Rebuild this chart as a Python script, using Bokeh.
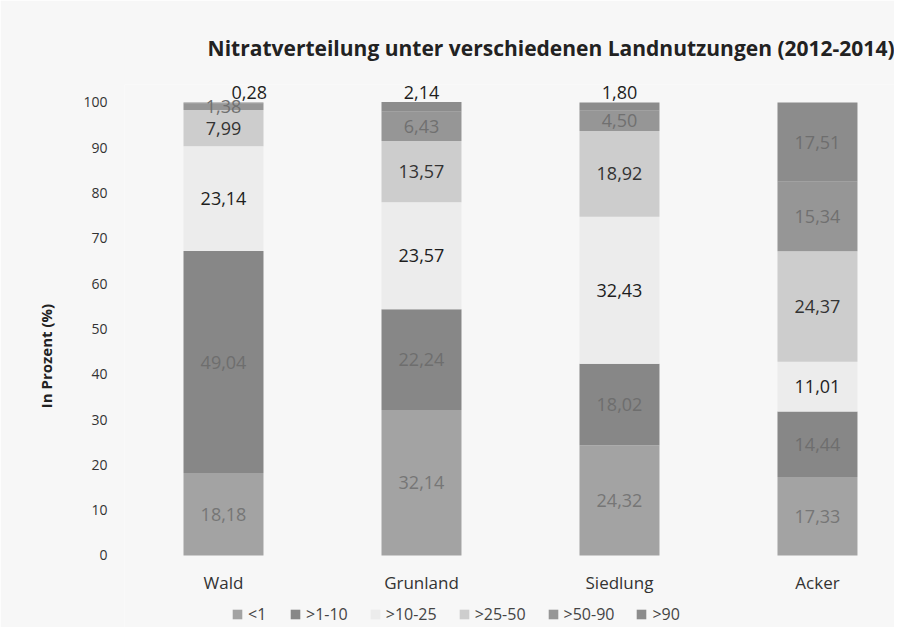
from bokeh.plotting import figure
from bokeh.models import Range1d, FixedTicker, ColumnDataSource, Legend, LegendItem
from bokeh.core.properties import value
from bokeh.embed import file_html
from bokeh.resources import INLINE

# ---- data ----
categories = ["Wald", "Grunland", "Siedlung", "Acker"]
series = ["<1", ">1-10", ">10-25", ">25-50", ">50-90", ">90"]
s_lt1 = [18.18, 32.14, 24.32, 17.33]
s_1_10 = [49.04, 22.24, 18.02, 14.44]
s_10_25 = [23.14, 23.57, 32.43, 11.01]
s_25_50 = [7.99, 13.57, 18.92, 24.37]
s_50_90 = [1.38, 6.43, 4.50, 15.34]
s_gt90 = [0.28, 2.14, 1.80, 17.51]
title_text = "Nitratverteilung unter verschiedenen Landnutzungen (2012-2014)"

# ---- styles ----
FONT = "Open Sans"
colors = ["#a3a3a3", "#878787", "#ececec", "#cdcdcd", "#969696", "#8c8c8c"]
label_colors = ["#767676", "#6e6e6e", "#1e1e1e", "#333333", "#707070", "#6e6e6e"]
BG = "#f7f7f7"

all_series = [s_lt1, s_1_10, s_10_25, s_25_50, s_50_90, s_gt90]
keys = ["s%d" % i for i in range(len(series))]
xs = list(range(len(categories)))
data = {"x": xs}
for k, s in zip(keys, all_series):
    data[k] = s
src = ColumnDataSource(data)

p = figure(frame_width=770, frame_height=543,
           x_range=Range1d(-0.5, 3.389), y_range=Range1d(-15.9, 103.97),
           output_backend="svg", toolbar_location=None,
           min_border_left=124, min_border_top=84, min_border_right=0,
           min_border_bottom=0,
           background_fill_color=BG, border_fill_color=BG, outline_line_color=None)

rs = p.vbar_stack(keys, x="x", width=0.404, color=colors, line_color=None, source=src)

# value labels
lx, ly, lt, lc = [], [], [], []
for i, cat in enumerate(categories):
    cum = 0.0
    for j, s in enumerate(all_series):
        v = s[i]
        txt = ("%.2f" % v).replace(".", ",")
        if j == len(all_series) - 1 and v < 3:
            y = cum + v + 2.2
            x = i + (0.13 if v < 1 else 0.0)
            col = "#1e1e1e"
        else:
            y = cum + v / 2.0
            x = i
            col = label_colors[j]
        lx.append(x); ly.append(y); lt.append(txt); lc.append(col)
        cum += v
lab_src = ColumnDataSource(dict(x=lx, y=ly, text=lt, color=lc))
p.text(x="x", y="y", text="text", source=lab_src, text_align="center",
       text_baseline="middle", text_font=value(FONT), text_font_size="18px",
       text_color="color")

# axes
p.xgrid.visible = False
p.ygrid.visible = False
p.xaxis.ticker = FixedTicker(ticks=xs)
p.xaxis.major_label_overrides = {i: c for i, c in enumerate(categories)}
p.xaxis.fixed_location = 0
p.yaxis.ticker = FixedTicker(ticks=list(range(0, 101, 10)))
for ax in (p.xaxis[0], p.yaxis[0]):
    ax.axis_line_color = None
    ax.major_tick_line_color = None
    ax.minor_tick_line_color = None
    ax.major_label_text_font = FONT
    ax.major_label_text_color = "#333333"
p.yaxis.major_label_text_font_size = "14px"
p.xaxis.major_label_text_font_size = "17px"
p.xaxis.major_label_standoff = 10
p.yaxis.major_label_standoff = 11
p.yaxis.axis_label = "In Prozent (%)"
p.yaxis.axis_label_text_font = FONT
p.yaxis.axis_label_text_font_size = "15px"
p.yaxis.axis_label_text_font_style = "bold"
p.yaxis.axis_label_text_color = "#222222"
p.yaxis.axis_label_standoff = 24

# title
p.title.text = title_text
p.title.align = "right"
p.title.text_font = FONT
p.title.text_font_size = "21px"
p.title.text_font_style = "bold"
p.title.text_color = "#222222"
p.title.standoff = 45

# legend
items = [LegendItem(label=name, renderers=[r]) for name, r in zip(series, rs)]
legend = Legend(items=items, orientation="horizontal", location=(107, 2),
                glyph_width=12, glyph_height=12, label_text_font=FONT,
                label_text_font_size="16px", label_text_color="#444444",
                spacing=21, label_standoff=5, border_line_color=None,
                background_fill_alpha=0, margin=0, padding=0)
p.add_layout(legend)

open("out.html", "w").write(file_html(p, INLINE))
